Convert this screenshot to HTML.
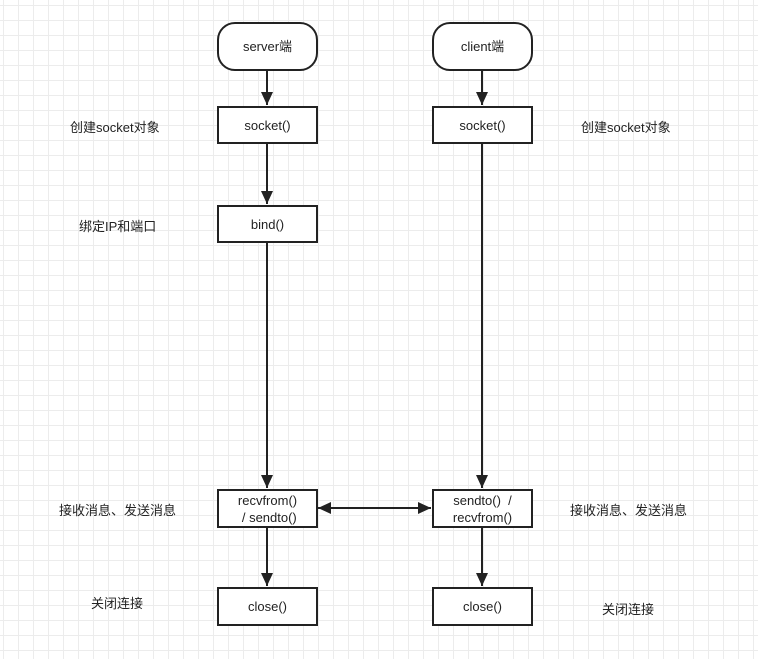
<html><head><style>
body{margin:0;width:768px;height:659px;overflow:hidden;background:#fff;font-family:"Liberation Sans","Noto Sans CJK SC",sans-serif;}
.g{position:absolute;left:0;top:0;width:758px;height:659px;background-image:linear-gradient(#ececec 1px,transparent 1px),linear-gradient(90deg,#ececec 1px,transparent 1px);background-size:15px 15px;background-position:3px 5px;}
.b{position:absolute;border:2px solid #222;background:#fff;box-sizing:border-box;width:101px;display:flex;align-items:center;justify-content:center;text-align:center;font-size:13px;color:#222;line-height:17px;}
.t{position:absolute;font-size:13px;color:#222;}
</style></head><body><div class="g"></div>
<svg width="768" height="659" style="position:absolute;left:0;top:0">
<defs><marker id="a" markerWidth="14" markerHeight="12" refX="13" refY="6" orient="auto" markerUnits="userSpaceOnUse"><path d="M0,0 L13,6 L0,12 z" fill="#222"/></marker></defs>
<g stroke="#222" stroke-width="2" fill="none">
<line x1="267" y1="70" x2="267" y2="105" marker-end="url(#a)"/>
<line x1="267" y1="143" x2="267" y2="204" marker-end="url(#a)"/>
<line x1="267" y1="243" x2="267" y2="488" marker-end="url(#a)"/>
<line x1="267" y1="527" x2="267" y2="586" marker-end="url(#a)"/>
<line x1="482" y1="70" x2="482" y2="105" marker-end="url(#a)"/>
<line x1="482" y1="143" x2="482" y2="488" marker-end="url(#a)"/>
<line x1="482" y1="527" x2="482" y2="586" marker-end="url(#a)"/>
<line x1="340" y1="508" x2="431" y2="508" marker-end="url(#a)"/>
<line x1="340" y1="508" x2="318" y2="508" marker-end="url(#a)"/>
</g></svg>
<div class="b" style="left:217px;top:22px;height:49px;border-radius:18px">server端</div>
<div class="b" style="left:432px;top:22px;height:49px;border-radius:18px">client端</div>
<div class="b" style="left:217px;top:106px;height:38px">socket()</div>
<div class="b" style="left:432px;top:106px;height:38px">socket()</div>
<div class="b" style="left:217px;top:205px;height:38px">bind()</div>
<div class="b" style="left:217px;top:489px;height:39px">recvfrom()<br>&nbsp;/ sendto()</div>
<div class="b" style="left:432px;top:489px;height:39px">sendto()&nbsp; /<br>recvfrom()</div>
<div class="b" style="left:217px;top:587px;height:39px">close()</div>
<div class="b" style="left:432px;top:587px;height:39px">close()</div>
<div class="t" style="left:70px;top:117px">创建socket对象</div>
<div class="t" style="left:581px;top:117px">创建socket对象</div>
<div class="t" style="left:79px;top:216px">绑定IP和端口</div>
<div class="t" style="left:59px;top:500px">接收消息、发送消息</div>
<div class="t" style="left:570px;top:500px">接收消息、发送消息</div>
<div class="t" style="left:91px;top:593px">关闭连接</div>
<div class="t" style="left:602px;top:599px">关闭连接</div>
</body></html>
